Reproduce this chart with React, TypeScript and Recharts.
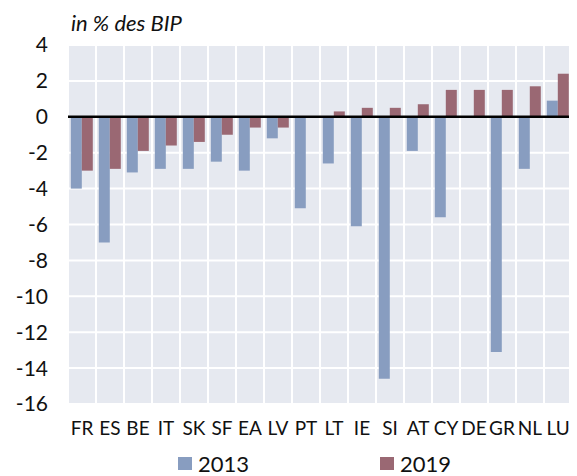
import { BarChart, Bar, XAxis, YAxis, CartesianGrid, Legend, ReferenceLine } from 'recharts'

const countries = ['FR', 'ES', 'BE', 'IT', 'SK', 'SF', 'EA', 'LV', 'PT', 'LT', 'IE', 'SI', 'AT', 'CY', 'DE', 'GR', 'NL', 'LU']
const values2013 = [-4.0, -7.0, -3.1, -2.9, -2.9, -2.5, -3.0, -1.2, -5.1, -2.6, -6.1, -14.6, -1.9, -5.6, 0, -13.1, -2.9, 0.9]
const values2019 = [-3.0, -2.9, -1.9, -1.6, -1.4, -1.0, -0.6, -0.6, 0, 0.3, 0.5, 0.5, 0.7, 1.5, 1.5, 1.5, 1.7, 2.4]
const yTicks = [4, 2, 0, -2, -4, -6, -8, -10, -12, -14, -16]

const BLUE = '#889DC0'
const RED = '#9A6873'
const FONT = 'Lato, "Open Sans", sans-serif'

const data = countries.map((c, i) => ({
  country: c,
  y2013: values2013[i],
  y2019: values2019[i],
}))

const LegendBox = () => (
  <div style={{ display: 'flex', paddingLeft: 170, paddingTop: 14, fontFamily: FONT, fontSize: 22, color: '#111' }}>
    <div style={{ display: 'flex', alignItems: 'center', width: 202 }}>
      <span style={{ width: 14, height: 13, background: BLUE, marginRight: 6 }} />
      2013
    </div>
    <div style={{ display: 'flex', alignItems: 'center' }}>
      <span style={{ width: 14, height: 13, background: RED, marginRight: 6 }} />
      2019
    </div>
  </div>
)

export default function App() {
  return (
    <div style={{ position: 'relative', width: 569, height: 468, fontFamily: FONT }}>
      <div
        style={{
          position: 'absolute',
          left: 63,
          top: 4,
          fontSize: 22,
          fontStyle: 'italic',
          lineHeight: 1,
          color: '#111',
        }}
      >
        in % des BIP
      </div>
      <BarChart
        width={569}
        height={468}
        data={data}
        margin={{ top: 37, right: 5, left: 0, bottom: 0 }}
        barGap={0}
        barCategoryGap="10%"
      >
        <CartesianGrid
          fill="#E6E9F0"
          stroke="#ffffff"
          strokeWidth={2}
          verticalCoordinatesGenerator={({ offset }: any) =>
            countries.map((_, i) => offset.left + (i * offset.width) / countries.length)
          }
        />
        <XAxis
          dataKey="country"
          axisLine={false}
          tickLine={false}
          interval={0}
          height={32}
          tickMargin={12}
          tick={{ fontSize: 19, fill: '#111', fontFamily: FONT }}
        />
        <YAxis
          domain={[-16, 4]}
          ticks={yTicks}
          interval={0}
          width={60}
          axisLine={false}
          tickLine={false}
          tickMargin={14}
          tick={{ fontSize: 21, fill: '#111', fontFamily: FONT }}
        />
        <Legend verticalAlign="bottom" height={40} content={<LegendBox />} />
        <Bar dataKey="y2013" name="2013" fill={BLUE} isAnimationActive={false} />
        <Bar dataKey="y2019" name="2019" fill={RED} isAnimationActive={false} />
        <ReferenceLine y={0} stroke="#000" strokeWidth={2.5} />
      </BarChart>
    </div>
  )
}
